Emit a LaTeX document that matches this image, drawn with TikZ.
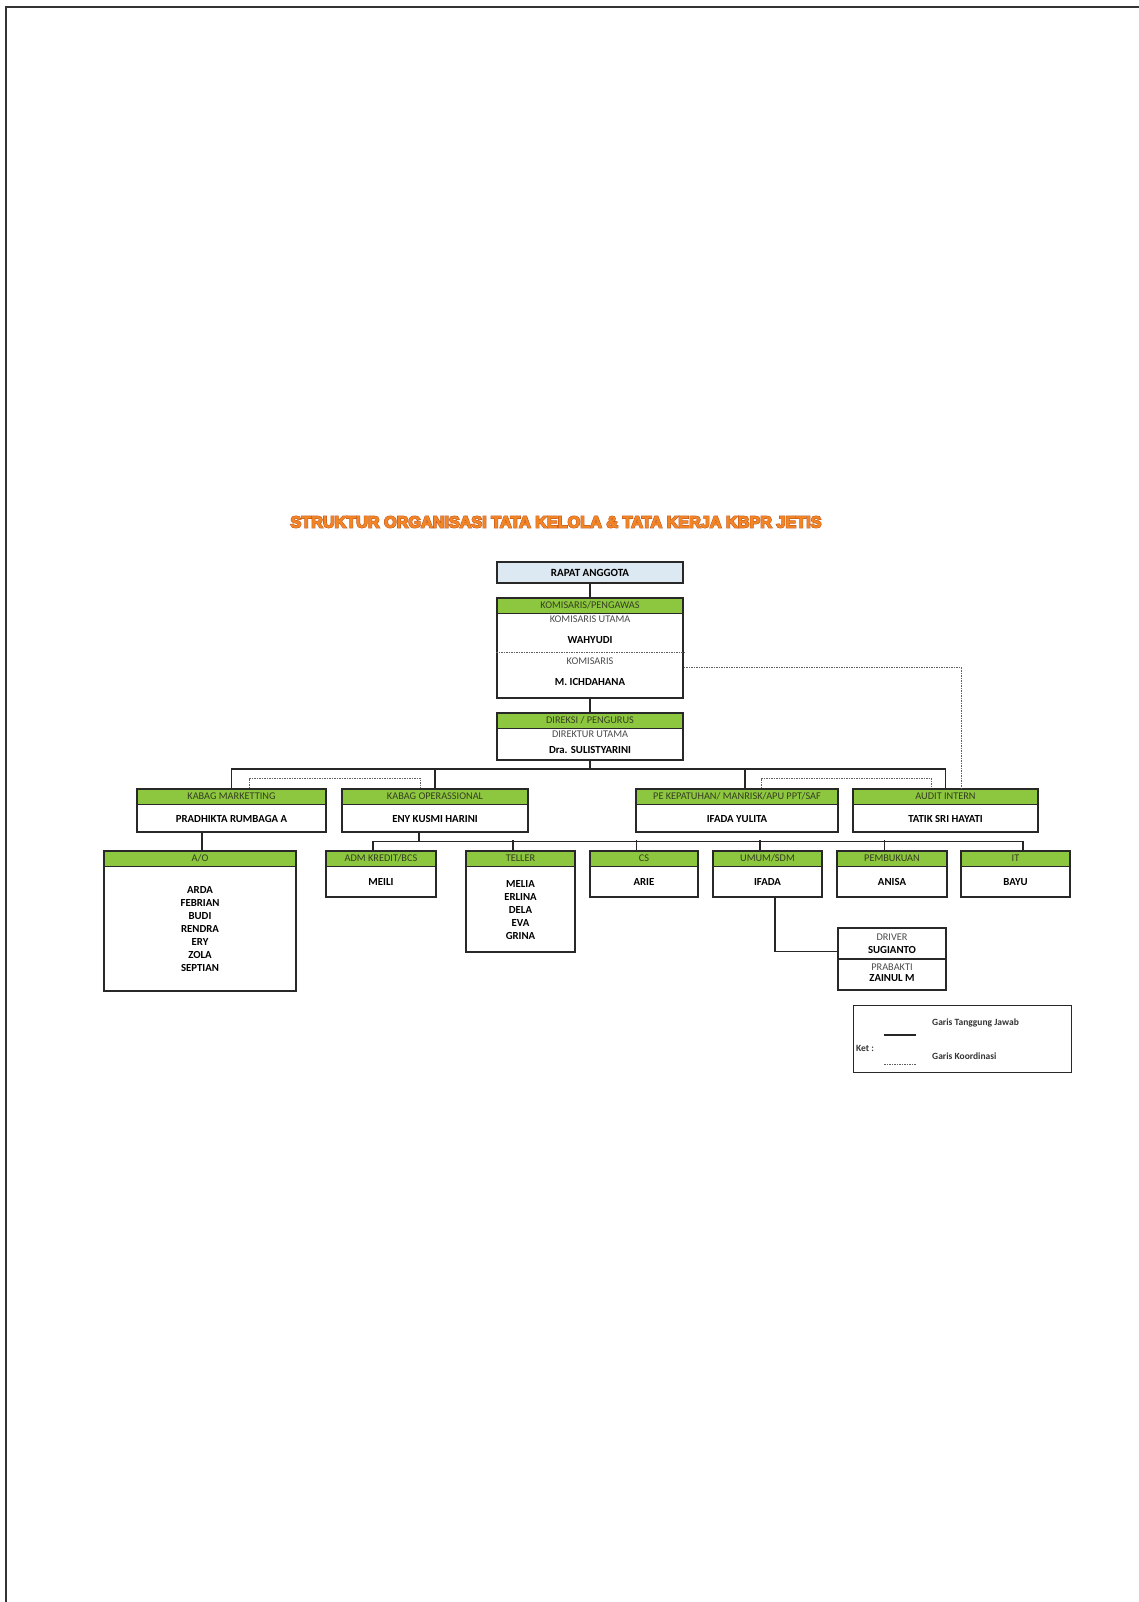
\documentclass[tikz,border=0pt]{standalone}
\usepackage{fontspec}
\setmainfont{Carlito}
\newfontfamily\titlefont{Liberation Sans}[BoldFeatures={FakeBold=3}]
\newfontfamily\titleedge{Liberation Sans}[BoldFeatures={FakeBold=9}]
\usetikzlibrary{calc}

\definecolor{hijau}{RGB}{141,198,63}
\definecolor{biru}{RGB}{220,232,242}
\definecolor{garis}{RGB}{40,40,40}
\definecolor{kepala}{RGB}{52,62,32}
\definecolor{oranye}{RGB}{242,134,38}
\definecolor{oranyetua}{RGB}{190,78,22}

\tikzset{
  unitbox/.style={draw=garis, line width=1.7pt, fill=white, inner sep=0pt, anchor=north},
  unithead/.style={draw=garis, line width=1.7pt, fill=hijau, inner sep=0pt, anchor=north,
    minimum height=15.5pt, text=kepala, font=\fontsize{10.3}{11}\selectfont},
  nama/.style={font=\fontsize{10.8}{13}\selectfont\bfseries, align=center, inner sep=0pt},
  jabatan/.style={font=\fontsize{10.3}{11}\selectfont, text=gray!60!black, inner sep=0pt},
  tj/.style={line width=1.2pt, draw=black!85},
  kg/.style={line width=1pt, draw=gray!75!black, dash pattern=on 1.5pt off 1pt},
  ket/.style={font=\fontsize{9.5}{11}\selectfont\bfseries, text=black!80, inner sep=0pt, anchor=west},
}

% name, x, top, width, height, header, names
\newcommand{\orgunit}[7]{%
  \node[unitbox, minimum width=#4pt, minimum height=#5pt] (#1) at (#2,#3) {};
  \node[unithead, minimum width=#4pt] (#1h) at (#1.north) {#6};
  \node[nama] (#1n) at ($(#1h.south)!0.5!(#1.south)$) {#7};
}

\begin{document}
\begin{tikzpicture}[x=1pt,y=-1pt]
\useasboundingbox (0,0) rectangle (1139,1602);
\draw[line width=2pt, draw=black!80] (6,1602) -- (6,7) -- (1139,7);

% judul
\node[text=oranyetua, font=\titleedge\bfseries\fontsize{16.2}{18}\selectfont] (judultepi) at (556,522)
  {STRUKTUR ORGANISASI TATA KELOLA \& TATA KERJA KBPR JETIS};
\node[text=oranye, font=\titlefont\bfseries\fontsize{16.2}{18}\selectfont] (judul) at (556,522)
  {STRUKTUR ORGANISASI TATA KELOLA \& TATA KERJA KBPR JETIS};

% rapat anggota
\node[unitbox, fill=biru, line width=2.2pt, minimum width=186pt, minimum height=21pt,
  font=\fontsize{11}{13}\selectfont\bfseries] (rapat) at (590,561) {RAPAT ANGGOTA};

% komisaris
\node[unitbox, minimum width=186pt, minimum height=100pt] (komisaris) at (590,597) {};
\node[unithead, minimum width=186pt] (komisarish) at (komisaris.north) {KOMISARIS/PENGAWAS};
\node[jabatan] (komut) at (590,619) {KOMISARIS UTAMA};
\node[nama] (komutn) at (590,640) {WAHYUDI};
\draw[kg] ([yshift=-55pt]komisaris.north west) -- ([yshift=-55pt]komisaris.north east);
\node[jabatan] (kom) at (590,661) {KOMISARIS};
\node[nama] (komn) at (590,682) {M. ICHDAHANA};

% direksi
\node[unitbox, minimum width=186pt, minimum height=47pt] (direksi) at (590,712) {};
\node[unithead, minimum width=186pt] (direksih) at (direksi.north) {DIREKSI / PENGURUS};
\node[jabatan] (dirut) at (590,734) {DIREKTUR UTAMA};
\node[nama] (dirutn) at (590,750) {Dra. SULISTYARINI};

% kabag
\orgunit{kabagmkt}{231.5}{788}{189}{43}{KABAG MARKETTING}{PRADHIKTA RUMBAGA A}
\orgunit{kabagops}{435}{788}{186}{43}{KABAG OPERASSIONAL}{ENY KUSMI HARINI}
\orgunit{pe}{737}{788}{202}{43}{PE KEPATUHAN/ MANRISK/APU PPT/SAF}{IFADA YULITA}
\orgunit{audit}{945.5}{788}{185}{43}{AUDIT INTERN}{TATIK SRI HAYATI}

% staf
\orgunit{ao}{200}{850}{192}{140}{A/O}{ARDA\\FEBRIAN\\BUDI\\RENDRA\\ERY\\ZOLA\\SEPTIAN}
\orgunit{admkredit}{381}{850}{110}{46}{ADM KREDIT/BCS}{MEILI}
\orgunit{teller}{520.5}{850}{109}{101}{TELLER}{MELIA\\ERLINA\\DELA\\EVA\\GRINA}
\orgunit{cs}{644}{850}{108}{46}{CS}{ARIE}
\orgunit{umum}{767.5}{850}{109}{46}{UMUM/SDM}{IFADA}
\orgunit{pembukuan}{892}{850}{110}{46}{PEMBUKUAN}{ANISA}
\orgunit{it}{1015.5}{850}{109}{46}{IT}{BAYU}

% driver
\node[unitbox, minimum width=108pt, minimum height=62pt] (driver) at (892,927) {};
\draw[draw=garis, line width=1.3pt] ([yshift=-32pt]driver.north west) -- ([yshift=-32pt]driver.north east);
\node[jabatan] (drv) at (892,937) {DRIVER};
\node[nama] (drvn) at (892,950) {SUGIANTO};
\node[jabatan] (prb) at (892,967) {PRABAKTI};
\node[nama] (prbn) at (892,978) {ZAINUL M};

% garis tanggung jawab
\draw[tj] (rapat.south) -- (komisaris.north);
\draw[tj] (komisaris.south) -- (direksi.north);
\coordinate (bus1) at (590,769);
\draw[tj] (direksi.south) -- (bus1);
\draw[tj] (kabagmkt.north) |- (bus1) -| (audit.north);
\draw[tj] (kabagops.north) -- (kabagops.north |- bus1);
\draw[tj] ([xshift=8pt]pe.north) -- ([xshift=8pt]pe.north |- bus1);
\draw[tj] ([xshift=-29.5pt]kabagmkt.south) -- ([xshift=-29.5pt]kabagmkt.south |- ao.north);
\draw[tj] ([xshift=-16pt]kabagops.south) -- ++(0,9) coordinate (bus2);
\draw[tj] ([xshift=-8pt]admkredit.north) |- (bus2) -| ([xshift=7.5pt]it.north);
\foreach \u in {teller,cs,umum,pembukuan}
  \draw[tj] ([xshift=-7.5pt]\u.north) -- ++(0,-10);
\draw[tj] ([xshift=7.5pt]umum.south) |- ([yshift=7pt]driver.west);

% garis koordinasi
\draw[kg] ([yshift=-20pt]komisaris.east) -| ([xshift=16pt]audit.north);
\draw[kg] ([xshift=17.5pt]kabagmkt.north) -- ++(0,-10) -| ([xshift=-15pt]kabagops.north);
\draw[kg] ([xshift=24pt]pe.north) -- ++(0,-10) -| ([xshift=-14.5pt]audit.north);

% keterangan
\node[draw=garis, line width=1.3pt, minimum width=218pt, minimum height=67pt, inner sep=0pt,
  anchor=north west] (ket) at (853,1005) {};
\node[ket] (kettj) at (932,1023) {Garis Tanggung Jawab};
\node[ket] (ketlabel) at (856,1048) {Ket :};
\node[ket] (ketkg) at (932,1056) {Garis Koordinasi};
\draw[tj] (884,1035) -- (916,1035);
\draw[kg] (884,1064) -- (916,1064);
\end{tikzpicture}
\end{document}
